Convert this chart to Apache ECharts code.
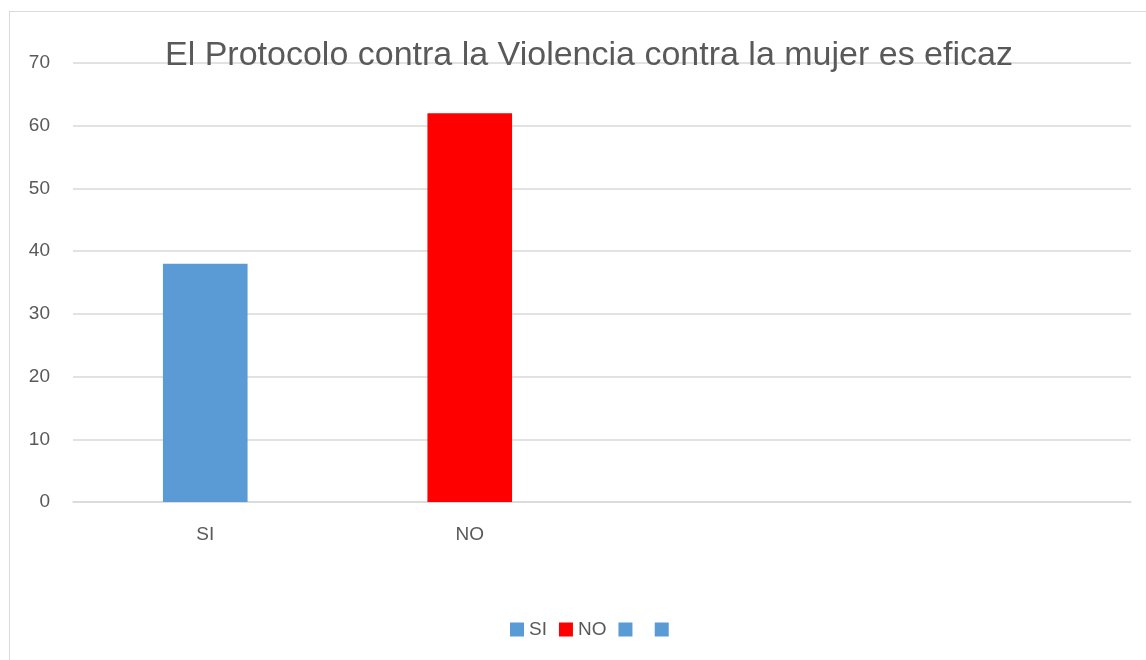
<!DOCTYPE html>
<html><head><meta charset="utf-8">
<script src="https://cdn.jsdelivr.net/npm/echarts@6/dist/echarts.min.js"></script>
<style>html,body{margin:0;padding:0;background:#fff}#c{width:1146px;height:660px}
#frame{position:absolute;left:9px;top:11px;width:1150px;height:660px;border:1.5px solid #d9d9d9;box-sizing:border-box;pointer-events:none}</style>
</head><body><div id="c"></div><div id="frame"></div>
<script>
const titleText = 'El Protocolo contra la Violencia contra la mujer es eficaz';
const categories = ['SI', 'NO', ' ', '  '];
const seriesNames = ['SI', 'NO', ' ', '  '];
const values = [38, 62, null, null];
const colors = ['#5B9BD5', '#FF0000', '#5B9BD5', '#5B9BD5'];
const yTicks = [0, 10, 20, 30, 40, 50, 60, 70];

const chart = echarts.init(document.getElementById('c'));
const series = seriesNames.map((n, i) => ({
  name: n, type: 'bar', stack: 'all', barWidth: '32%',
  itemStyle: { color: colors[i] },
  data: categories.map((c, j) => (j === i && values[i] != null) ? values[i] : '-')
}));
chart.setOption({
  animation: false,
  textStyle: { fontFamily: 'Liberation Sans' },
  title: { text: titleText, left: 160, top: 34,
    textStyle: { fontSize: 34, fontWeight: 'normal', color: '#595959', fontFamily: 'Liberation Sans' } },
  legend: { data: seriesNames, top: 615, left: 505, itemWidth: 14, itemHeight: 14, itemGap: 12,
    icon: 'rect', textStyle: { fontSize: 19, color: '#595959' } },
  grid: { left: 73, right: 15, top: 63, bottom: 158 },
  xAxis: { type: 'category', data: categories,
    axisLine: { show: true, lineStyle: { color: '#d9d9d9', width: 1.5 } }, axisTick: { show: false },
    axisLabel: { color: '#595959', fontSize: 19, margin: 23 } },
  yAxis: { type: 'value', min: yTicks[0], max: yTicks[yTicks.length - 1], interval: 10,
    axisLine: { show: false }, axisTick: { show: false },
    axisLabel: { color: '#595959', fontSize: 19, margin: 23 },
    splitLine: { lineStyle: { color: '#d9d9d9', width: 1.5 } } },
  series: series
});
</script></body></html>
